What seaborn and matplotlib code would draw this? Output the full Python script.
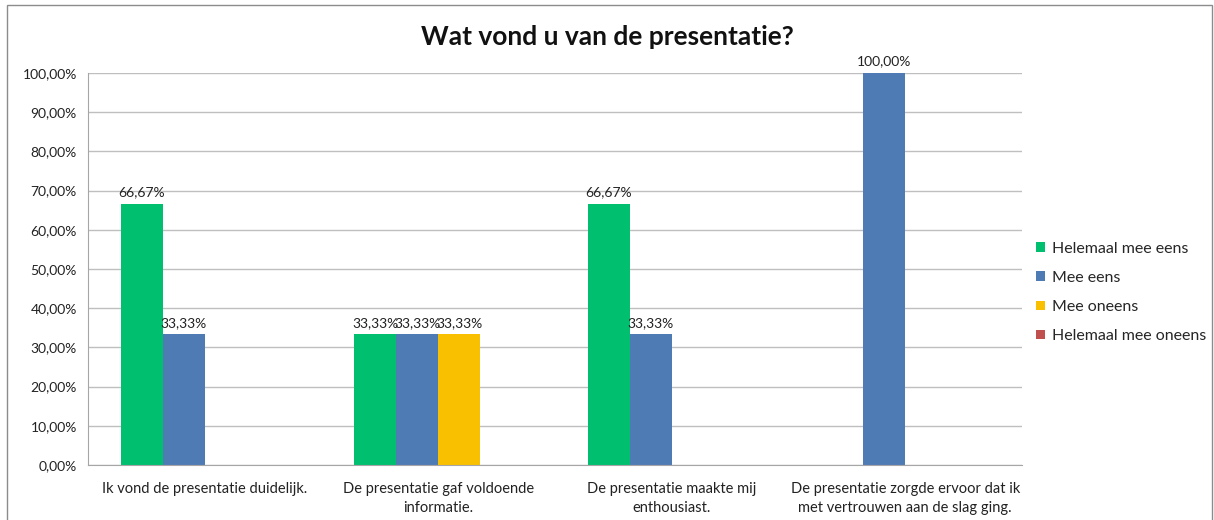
import matplotlib
matplotlib.use("Agg")
import matplotlib.pyplot as plt
from matplotlib.patches import Rectangle
from matplotlib.ticker import FuncFormatter
import seaborn as sns
import pandas as pd

# data
categories = [
    "Ik vond de presentatie duidelijk.",
    "De presentatie gaf voldoende\ninformatie.",
    "De presentatie maakte mij\nenthousiast.",
    "De presentatie zorgde ervoor dat ik\nmet vertrouwen aan de slag ging.",
]
series = ["Helemaal mee eens", "Mee eens", "Mee oneens", "Helemaal mee oneens"]
helemaal_eens = [66.67, 33.33, 66.67, 0.0]
mee_eens = [33.33, 33.33, 33.33, 100.0]
mee_oneens = [0.0, 33.33, 0.0, 0.0]
helemaal_oneens = [0.0, 0.0, 0.0, 0.0]
colors = ["#00BF6F", "#4F7BB5", "#F9C000", "#C0504D"]

rows = []
for name, vals in zip(series, [helemaal_eens, mee_eens, mee_oneens, helemaal_oneens]):
    for cat, v in zip(categories, vals):
        rows.append({"categorie": cat, "antwoord": name, "pct": v})
df = pd.DataFrame(rows)

sns.set_style("white")
plt.rcParams["font.family"] = ["Lato", "DejaVu Sans"]

fig = plt.figure(figsize=(12.14, 5.2), dpi=100)
ax = fig.add_axes([88 / 1214, 1 - 465 / 520, (1022 - 88) / 1214, (465 - 73) / 520])

sns.barplot(data=df, x="categorie", y="pct", hue="antwoord", order=categories,
            hue_order=series, palette=colors, width=0.72, saturation=1,
            ax=ax, legend=True, linewidth=0)

# data labels, skip zeros
for cont in ax.containers:
    labels = [f"{b.get_height():.2f}%".replace(".", ",") if b.get_height() > 0 else ""
              for b in cont]
    ax.bar_label(cont, labels=labels, padding=4, fontsize=10, color="#222222")

ax.set_ylim(0, 100)
ax.set_yticks(range(0, 101, 10))
ax.yaxis.set_major_formatter(FuncFormatter(lambda v, p: f"{v:.2f}%".replace(".", ",")))
ax.grid(True, axis="y", color="#BFBFBF", linewidth=1)
ax.set_axisbelow(True)
ax.set_xlabel("")
ax.set_ylabel("")
ax.tick_params(axis="both", length=0, labelsize=10, colors="#222222")
ax.tick_params(axis="x", pad=12, labelsize=10.5)
ax.tick_params(axis="y", pad=8)
for lab in ax.get_xticklabels():
    lab.set_linespacing(1.45)
for s in ["top", "right"]:
    ax.spines[s].set_visible(False)
for s in ["left", "bottom"]:
    ax.spines[s].set_color("#A6A6A6")

leg = ax.legend(loc="center left", bbox_to_anchor=(1.0, 0.44), frameon=False,
                fontsize=11.5, handlelength=0.55, handleheight=0.55,
                handletextpad=0.4, labelspacing=0.95)

fig.suptitle("Wat vond u van de presentatie?", x=0.5, y=1 - 37 / 520, va="center",
             fontsize=19, fontweight="bold", color="#111111")

# outer chart border
fig.patches.append(Rectangle((7 / 1214, -0.05), 1205 / 1214, 1.05 - 5 / 520,
                             transform=fig.transFigure, fill=False,
                             edgecolor="#8C8C8C", linewidth=1))

fig.savefig("out.png", dpi=100)
